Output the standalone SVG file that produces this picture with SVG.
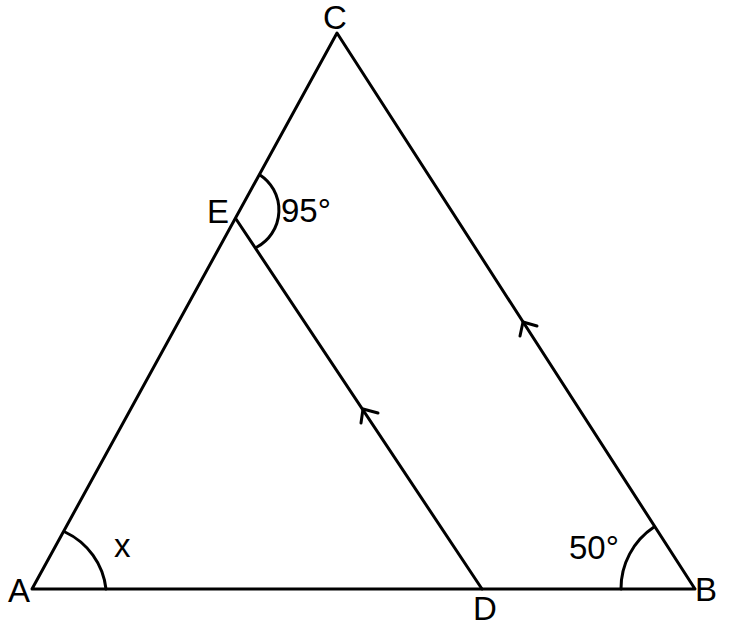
<svg xmlns="http://www.w3.org/2000/svg" width="729" height="628" viewBox="0 0 729 628">
<style>
.l{stroke:#000;stroke-width:3;fill:none;stroke-linecap:round;stroke-linejoin:round}
.t{font-family:"Liberation Sans",Arial,sans-serif;font-size:33px;fill:#000}
</style>
<rect width="729" height="628" fill="#fff"/>
<g id="connectors">
<path class="l" d="M32,589 L337,33 L695,589 Z"/>
<path class="l" d="M236,219 L482,589"/>
<path class="l" d="M378,413 L363,409 L361,423"/>
<path class="l" d="M537,326 L523,322 L520,336"/>
<path class="l" d="M65,532 A72,72 0 0 1 106,589"/>
<path class="l" d="M654,527 A74,74 0 0 0 621,589"/>
<path class="l" d="M260,175 A42,42 0 0 1 257,247"/>
</g>
<g id="A"><text class="t" x="8" y="602">A</text></g>
<g id="B"><text class="t" x="695" y="601">B</text></g>
<g id="C"><text class="t" x="323" y="29">C</text></g>
<g id="D"><text class="t" x="473" y="620">D</text></g>
<g id="E"><text class="t" x="207" y="223">E</text></g>
<g id="angles">
<text class="t" x="281" y="222">95°</text>
<text class="t" x="569" y="559">50°</text>
<text class="t" x="114" y="557">x</text>
</g>
</svg>
